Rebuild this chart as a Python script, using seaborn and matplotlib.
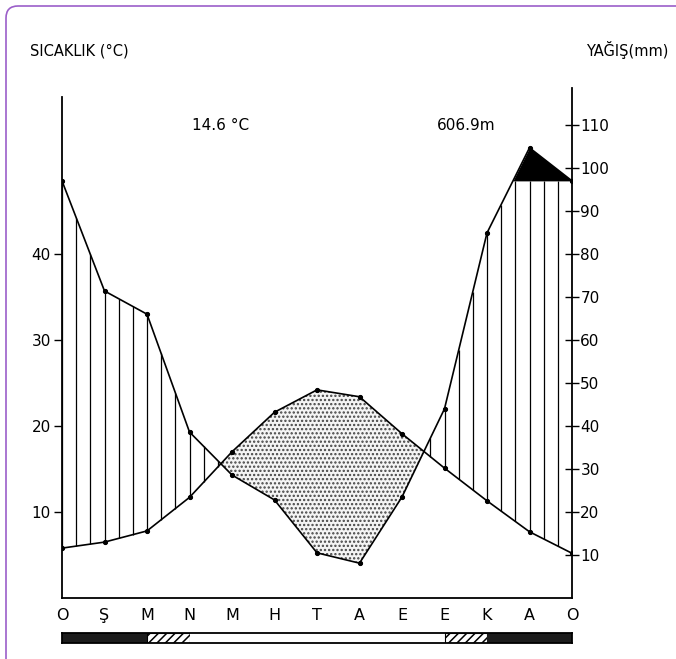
import numpy as np
import matplotlib
matplotlib.use("Agg")
import matplotlib.pyplot as plt
import seaborn as sns
from matplotlib.patches import FancyBboxPatch
from matplotlib.transforms import IdentityTransform

# data (Walter-Lieth style, 1 °C = 2 mm)
months = ['O', 'Ş', 'M', 'N', 'M', 'H', 'T', 'A', 'E', 'E', 'K', 'A', 'O']
temp_c = [5.8, 6.5, 7.8, 11.7, 17.0, 21.6, 24.2, 23.4, 19.1, 15.1, 11.3, 7.7, 5.2]
precip_mm = [97.0, 71.4, 66.0, 38.6, 28.6, 22.8, 10.5, 8.1, 23.5, 44.0, 84.9, 104.7, 97.0]
precip_cap = 97.0          # above this level the curve is filled black
frost = [2, 2, 1, 0, 0, 0, 0, 0, 0, 1, 2, 2]   # 2 = frost, 1 = probable frost
temp_ticks = [10, 20, 30, 40]
precip_ticks = [10, 20, 30, 40, 50, 60, 70, 80, 90, 100, 110]
mean_temp_label = "14.6 °C"
total_precip_label = "606.9m"

sns.set_style("white")
plt.rcParams['font.family'] = ['DejaVu Sans']
plt.rcParams['text.color'] = 'black'
plt.rcParams['hatch.linewidth'] = 1.1

W, H = 676, 659
fig = plt.figure(figsize=(W / 100, H / 100), dpi=100)


def fx(x):
    return x / W


def fy(y):
    return 1 - y / H


ax = fig.add_axes([fx(62), fy(598), 510 / W, 510 / H])

x = np.arange(len(months))
temp = np.array(temp_c)
prec = np.array(precip_mm) / 2.0   # scaled to the temperature axis
cap = precip_cap / 2.0

# dry period: dotted fill
ax.fill_between(x, prec, temp, where=temp > prec, interpolate=True,
                facecolor='#f4f4f4', hatch='....', edgecolor='#444444', linewidth=0)

# humid period: vertical hatching
xs = np.arange(0, 12.001, 1 / 3)
t_i = np.interp(xs, x, temp)
p_i = np.interp(xs, x, prec)
m = p_i > t_i
ax.vlines(xs[m], t_i[m], np.minimum(p_i, cap)[m], color='black', lw=0.9)

# very humid: black
ax.fill_between(x, cap, prec, where=prec > cap, interpolate=True,
                color='black', linewidth=0)

sns.lineplot(x=x, y=temp, color='black', lw=1.2, marker='o', markersize=3,
             markeredgecolor='black', ax=ax)
sns.lineplot(x=x, y=prec, color='black', lw=1.2, marker='o', markersize=3,
             markeredgecolor='black', ax=ax)

ax.set_xlim(0, 12)
ax.set_ylim(0, 59.3)
ax.set_xticks(x)
ax.set_xticklabels(months, fontsize=11.5)
ax.set_yticks(temp_ticks)
ax.set_yticklabels([str(t) for t in temp_ticks], fontsize=11)
ax.tick_params(axis='x', direction='in', length=5, width=1, pad=7, colors='black')
ax.tick_params(axis='y', direction='out', length=6, width=1, pad=2, colors='black')
for s in ['top', 'right']:
    ax.spines[s].set_visible(False)
for s in ['left', 'bottom']:
    ax.spines[s].set_color('black')
    ax.spines[s].set_linewidth(1.3)
ax.spines['left'].set_bounds(0, 58.3)
ax.set_xlabel('')
ax.set_ylabel('')

ax2 = ax.twinx()
ax2.set_ylim(0, 59.3 * 2)
ax2.set_yticks(precip_ticks)
ax2.set_yticklabels([str(t) for t in precip_ticks], fontsize=11)
ax2.tick_params(axis='y', direction='inout', length=10, width=1, pad=1, colors='black')
for s in ['top', 'left', 'bottom']:
    ax2.spines[s].set_visible(False)
ax2.spines['right'].set_color('black')
ax2.spines['right'].set_linewidth(1.3)

# frost bar under the months
axb = fig.add_axes([fx(62), fy(643), 510 / W, 10 / H])
for i, f in enumerate(frost):
    if f == 2:
        axb.barh(0, 1, left=i, height=1, color='#1c1c1c', linewidth=0)
    elif f == 1:
        axb.barh(0, 1, left=i, height=1, facecolor='white', hatch='////',
                 edgecolor='black', linewidth=0.8)
    else:
        axb.barh(0, 1, left=i, height=1, color='white', linewidth=0)
axb.set_xlim(0, 12)
axb.set_ylim(-0.5, 0.5)
axb.set_xticks([])
axb.set_yticks([])
for s in axb.spines.values():
    s.set_color('black')
    s.set_linewidth(1.3)

fig.text(fx(30), fy(51), 'SICAKLIK (°C)', ha='left', va='center', fontsize=10.5)
fig.text(fx(668), fy(50), 'YAĞIŞ(mm)', ha='right', va='center', fontsize=10.5)
fig.text(fx(192), fy(125), mean_temp_label, ha='left', va='center', fontsize=11)
fig.text(fx(437), fy(126), total_precip_label, ha='left', va='center', fontsize=11)

frame = FancyBboxPatch((6, -60), 800, H - 6 + 60,
                       boxstyle='round,pad=0,rounding_size=12',
                       transform=IdentityTransform(), facecolor='none',
                       edgecolor='#9b5fc9', linewidth=1.2)
fig.patches.append(frame)

fig.savefig('out.png', dpi=100)
